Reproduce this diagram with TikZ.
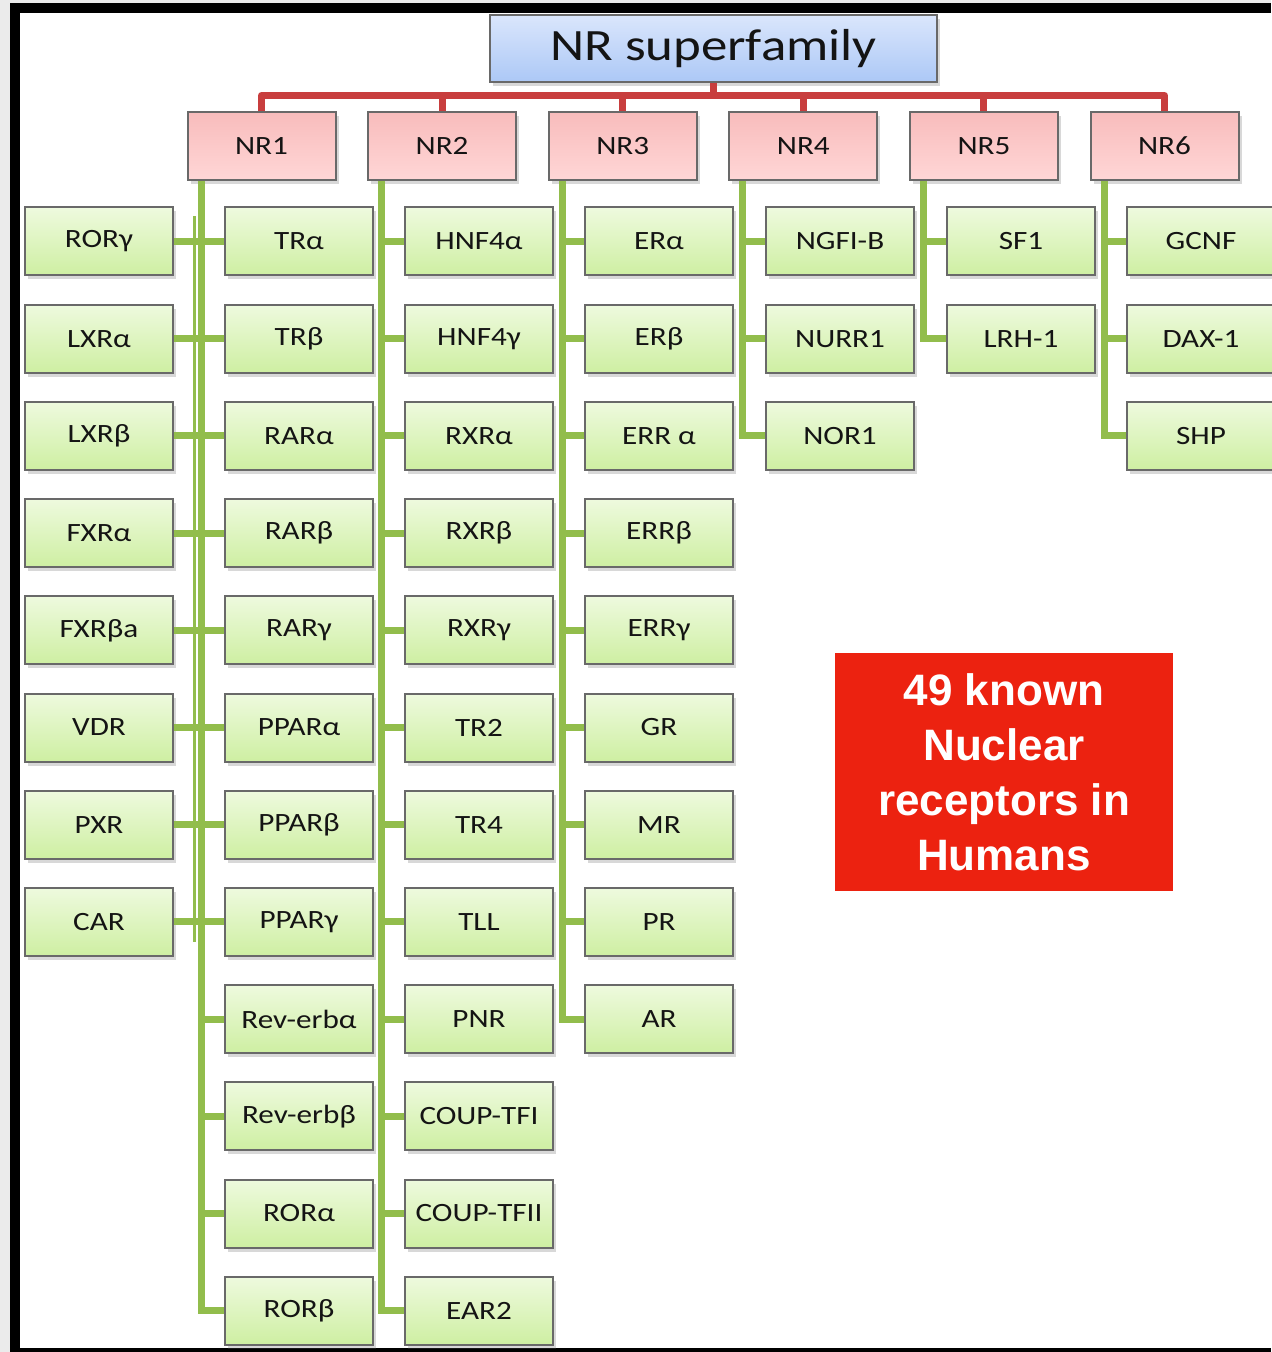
\documentclass[tikz,border=0pt]{standalone}
\usepackage{fontspec}
\setmainfont{Carlito}[FakeStretch=1.18]
\newfontfamily\calloutfont{Liberation Sans}
\usetikzlibrary{shadows}

\definecolor{leafTop}{RGB}{238,250,222}
\definecolor{leafBot}{RGB}{206,239,162}
\definecolor{famTop}{RGB}{248,188,188}
\definecolor{famBot}{RGB}{255,214,214}
\definecolor{rootTop}{RGB}{218,230,252}
\definecolor{rootBot}{RGB}{172,200,246}
\definecolor{boxline}{RGB}{105,105,105}
\definecolor{twig}{RGB}{146,189,76}
\definecolor{barred}{RGB}{200,62,62}
\definecolor{noteRed}{RGB}{236,34,16}
\definecolor{ink}{RGB}{20,20,20}

\begin{document}
\begin{tikzpicture}[x=0.5pt,y=-0.5pt,
  leaf/.style={draw=boxline,line width=1pt,minimum width=74pt,minimum height=34pt,
    top color=leafTop,bottom color=leafBot,text=ink,
    font=\fontsize{13.2}{15}\selectfont,
    drop shadow={shadow xshift=1.5pt,shadow yshift=-2pt,opacity=0.25,fill=black!60}},
  family/.style={leaf,top color=famTop,bottom color=famBot},
  branch/.style={draw=twig,line width=3.5pt},
  bar/.style={draw=barred,line width=3.5pt,line join=round}]
  % page and frame
  \useasboundingbox (0,0) rectangle (1271,1352);
  \fill[black!8] (0,0) rectangle (1271,1352);
  \fill[white] (20,13) rectangle (1271,1348);
  \fill[black] (10,3) rectangle (1271,13);
  \fill[black] (10,3) rectangle (20,1352);
  \fill[black] (10,1348) rectangle (1271,1352);

  % root and the six subfamilies
  \node[leaf,top color=rootTop,bottom color=rootBot,minimum width=223.5pt,
    minimum height=33.5pt,font=\fontsize{22.4}{24}\selectfont] (root) at (713.5,48.5)
    {NR superfamily};
  \foreach \i in {1,...,6}
    \node[family] (nr\i) at ({261.5+180.6*(\i-1)},146) {NR\i};

  % receptors, one column each
  \foreach \lab [count=\r] in {RORγ,LXRα,LXRβ,FXRα,FXRβa,VDR,PXR,CAR}
    \node[leaf] (a\r) at (99,{241.5+97.2*(\r-1)}) {\lab};
  \foreach \lab [count=\r] in {TRα,TRβ,RARα,RARβ,RARγ,PPARα,PPARβ,PPARγ,
      Rev-erbα,Rev-erbβ,RORα,RORβ}
    \node[leaf] (b\r) at (299,{241.5+97.2*(\r-1)}) {\lab};
  \foreach \lab [count=\r] in {HNF4α,HNF4γ,RXRα,RXRβ,RXRγ,TR2,TR4,TLL,PNR,
      COUP-TFI,COUP-TFII,EAR2}
    \node[leaf] (c\r) at (479,{241.5+97.2*(\r-1)}) {\lab};
  \foreach \lab [count=\r] in {ERα,ERβ,ERR α,ERRβ,ERRγ,GR,MR,PR,AR}
    \node[leaf] (d\r) at (659,{241.5+97.2*(\r-1)}) {\lab};
  \foreach \lab [count=\r] in {NGFI-B,NURR1,NOR1}
    \node[leaf] (e\r) at (840,{241.5+97.2*(\r-1)}) {\lab};
  \foreach \lab [count=\r] in {SF1,LRH-1}
    \node[leaf] (f\r) at (1021,{241.5+97.2*(\r-1)}) {\lab};
  \foreach \lab [count=\r] in {GCNF,DAX-1,SHP}
    \node[leaf] (g\r) at (1201,{241.5+97.2*(\r-1)}) {\lab};

  % red bar from the root to each subfamily
  \coordinate (lvl) at ([yshift=7.75pt]nr1.north);
  \draw[bar] (root.south) -- (root.south |- lvl);
  \draw[bar] (nr1.north) -- (lvl) -| (nr6.north);
  \foreach \i in {2,...,5}
    \draw[bar] (nr\i.north) -- (nr\i.north |- lvl);

  % green trunks
  \foreach \i in {1,...,6}
    \coordinate (t\i) at ([xshift=7.25pt]nr\i.south west);
  \draw[branch] (t1) |- (b12.west);
  \foreach \r in {1,...,11}
    \draw[branch] (t1 |- b\r.west) -- (b\r.west);
  \foreach \r in {1,...,8}
    \draw[branch] (a\r.east) -- (t1 |- a\r.east);
  \draw[twig,line width=1.5pt] ([xshift=-3.25pt,yshift=-5pt]t1 |- a1.north)
    -- ([xshift=-3.25pt,yshift=-10pt]t1 |- a8.center);
  \foreach \col/\p/\n in {c/2/12,d/3/9,e/4/3,f/5/2,g/6/3} {
    \draw[branch] (t\p) |- (\col\n.west);
    \foreach \r in {1,...,\n}
      \draw[branch] (t\p |- \col\r.west) -- (\col\r.west);
  }

  % callout
  \node[fill=noteRed,text=white,minimum width=169pt,minimum height=119pt,
    align=center,font=\calloutfont\bfseries\fontsize{22}{27.5}\selectfont] (note)
    at (1004,772) {49 known\\Nuclear\\receptors in\\Humans};
\end{tikzpicture}
\end{document}
